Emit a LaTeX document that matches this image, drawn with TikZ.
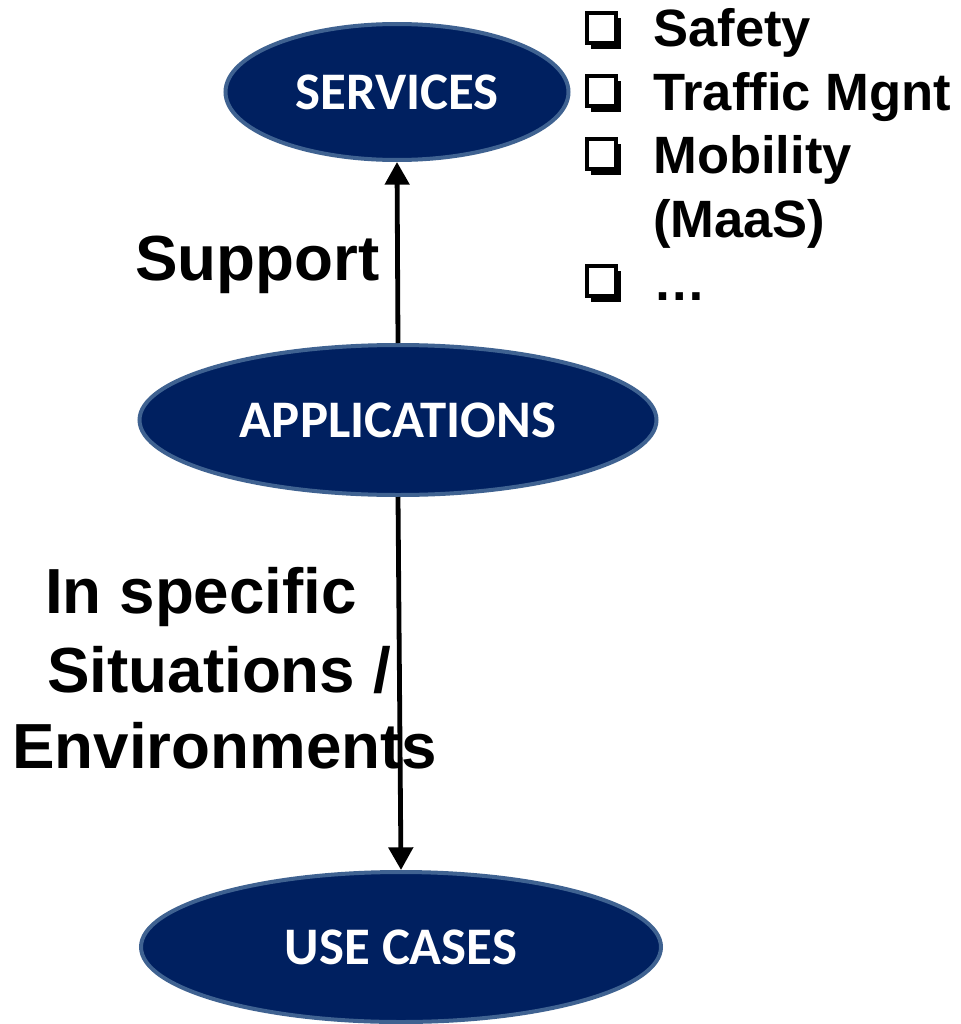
\documentclass[tikz,border=0pt]{standalone}
\usepackage{fontspec}
\setmainfont{Liberation Sans}
\newfontfamily\calfont{Carlito}
\usetikzlibrary{shapes.geometric,arrows.meta}
\definecolor{navy}{RGB}{0,32,96}
\definecolor{rimblue}{RGB}{63,98,145}
\tikzset{
  x=0.75pt, y=-0.75pt,
  oval/.style={ellipse, draw=rimblue, fill=navy, line width=3pt, inner sep=0pt,
    text=white, font=\calfont\bfseries\fontsize{39.6}{46}\selectfont},
  bigtxt/.style={anchor=base west, inner sep=0pt, font=\bfseries\fontsize{47.8}{56}\selectfont},
  listtxt/.style={anchor=base west, inner sep=0pt, font=\bfseries\fontsize{39.4}{45}\selectfont},
  conn/.style={line width=3.6pt, -{Triangle[width=18pt,length=17pt]}},
  chkbox/.pic={
    \fill[black] (6,-29) rectangle (36,2);
    \draw[black, fill=white, line width=2.6pt] (2,-34) rectangle (31,-4);
  }
}
\begin{document}
\begin{tikzpicture}
\useasboundingbox (0,0) rectangle (960,1024);

% ovals
\node[oval, minimum width=257.25pt, minimum height=102pt] (services) at (397,92) {SERVICES};
\node[oval, minimum width=387.75pt, minimum height=112.5pt] (apps) at (398,420) {APPLICATIONS};
\node[oval, minimum width=390pt, minimum height=112.5pt] (uses) at (401,947) {USE CASES};

% left labels
\node[bigtxt] (support) at (135,280) {Support};
\node[bigtxt] (sit1) at (45,613) {In specific};
\node[bigtxt] (sit2) at (47,692) {Situations /};
\node[bigtxt] (sit3) at (12,768) {Environments};

% list
\pic at (585,47) {chkbox};
\node[listtxt] (l1) at (653,47) {Safety};
\pic at (585,110) {chkbox};
\node[listtxt] (l2) at (653,110) {Traffic Mgnt};
\pic at (585,173) {chkbox};
\node[listtxt] (l3) at (653,173) {Mobility};
\node[listtxt] (l4) at (653,237) {(MaaS)};
\pic at (585,300) {chkbox};
\node[listtxt] (l5) at (653,300) {…};

% connectors
\draw[conn] (apps.north) -- (services.south);
\draw[conn] (apps.south) -- (uses.north);
\end{tikzpicture}
\end{document}
